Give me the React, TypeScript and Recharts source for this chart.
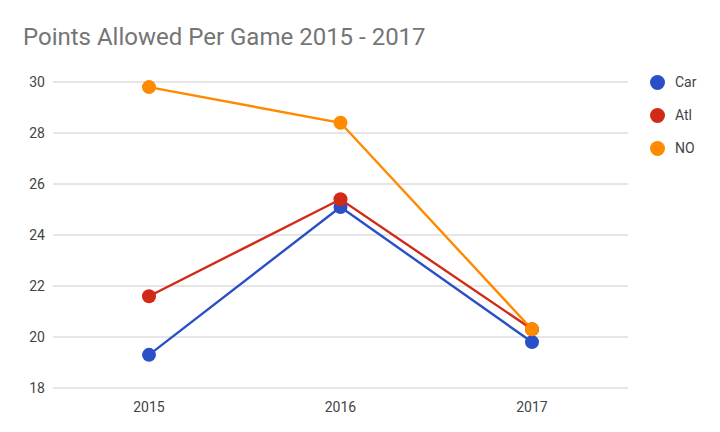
import { LineChart, Line, XAxis, YAxis, CartesianGrid } from 'recharts'

const years = ['2015', '2016', '2017']
const car = [19.3, 25.1, 19.8]
const atl = [21.6, 25.4, 20.3]
const no = [29.8, 28.4, 20.3]
const yTicks = [18, 20, 22, 24, 26, 28, 30]

const series = [
  { key: 'Car', values: car, color: '#2a4fc6' },
  { key: 'Atl', values: atl, color: '#d12b17' },
  { key: 'NO', values: no, color: '#ff8a00' },
]

const data = years.map((year, i) => ({
  year,
  Car: car[i],
  Atl: atl[i],
  NO: no[i],
}))

const font = 'Roboto, "Noto Sans", sans-serif'

export default function App() {
  return (
    <div style={{ position: 'absolute', left: 0, top: 0, width: 720, height: 432, background: '#fff', fontFamily: font }}>
      <div style={{ position: 'absolute', left: 23, top: 23, fontSize: 24, color: '#757575', whiteSpace: 'nowrap' }}>
        Points Allowed Per Game 2015 - 2017
      </div>
      <LineChart
        width={720}
        height={432}
        data={data}
        margin={{ top: 82, right: 92, left: 0, bottom: 20 }}
      >
        <CartesianGrid vertical={false} stroke="#cccccc" />
        <XAxis
          dataKey="year"
          axisLine={false}
          tickLine={false}
          height={24}
          tickMargin={8}
          padding={{ left: 96, right: 96 }}
          tick={{ fill: '#444', fontSize: 14, fontFamily: font }}
        />
        <YAxis
          domain={[18, 30]}
          ticks={yTicks}
          width={53}
          axisLine={false}
          tickLine={false}
          tick={{ fill: '#444', fontSize: 14, fontFamily: font }}
        />
        {series.map((s) => (
          <Line
            key={s.key}
            dataKey={s.key}
            stroke={s.color}
            strokeWidth={2.4}
            dot={{ r: 7, fill: s.color, stroke: 'none' }}
            activeDot={false}
            isAnimationActive={false}
          />
        ))}
      </LineChart>
      {series.map((s, i) => (
        <div
          key={s.key}
          style={{ position: 'absolute', left: 650, top: 74 + i * 33, height: 16, display: 'flex', alignItems: 'center' }}
        >
          <span style={{ width: 15, height: 15, borderRadius: '50%', background: s.color, display: 'inline-block' }} />
          <span style={{ marginLeft: 10, fontSize: 14, color: '#444' }}>{s.key}</span>
        </div>
      ))}
    </div>
  )
}
